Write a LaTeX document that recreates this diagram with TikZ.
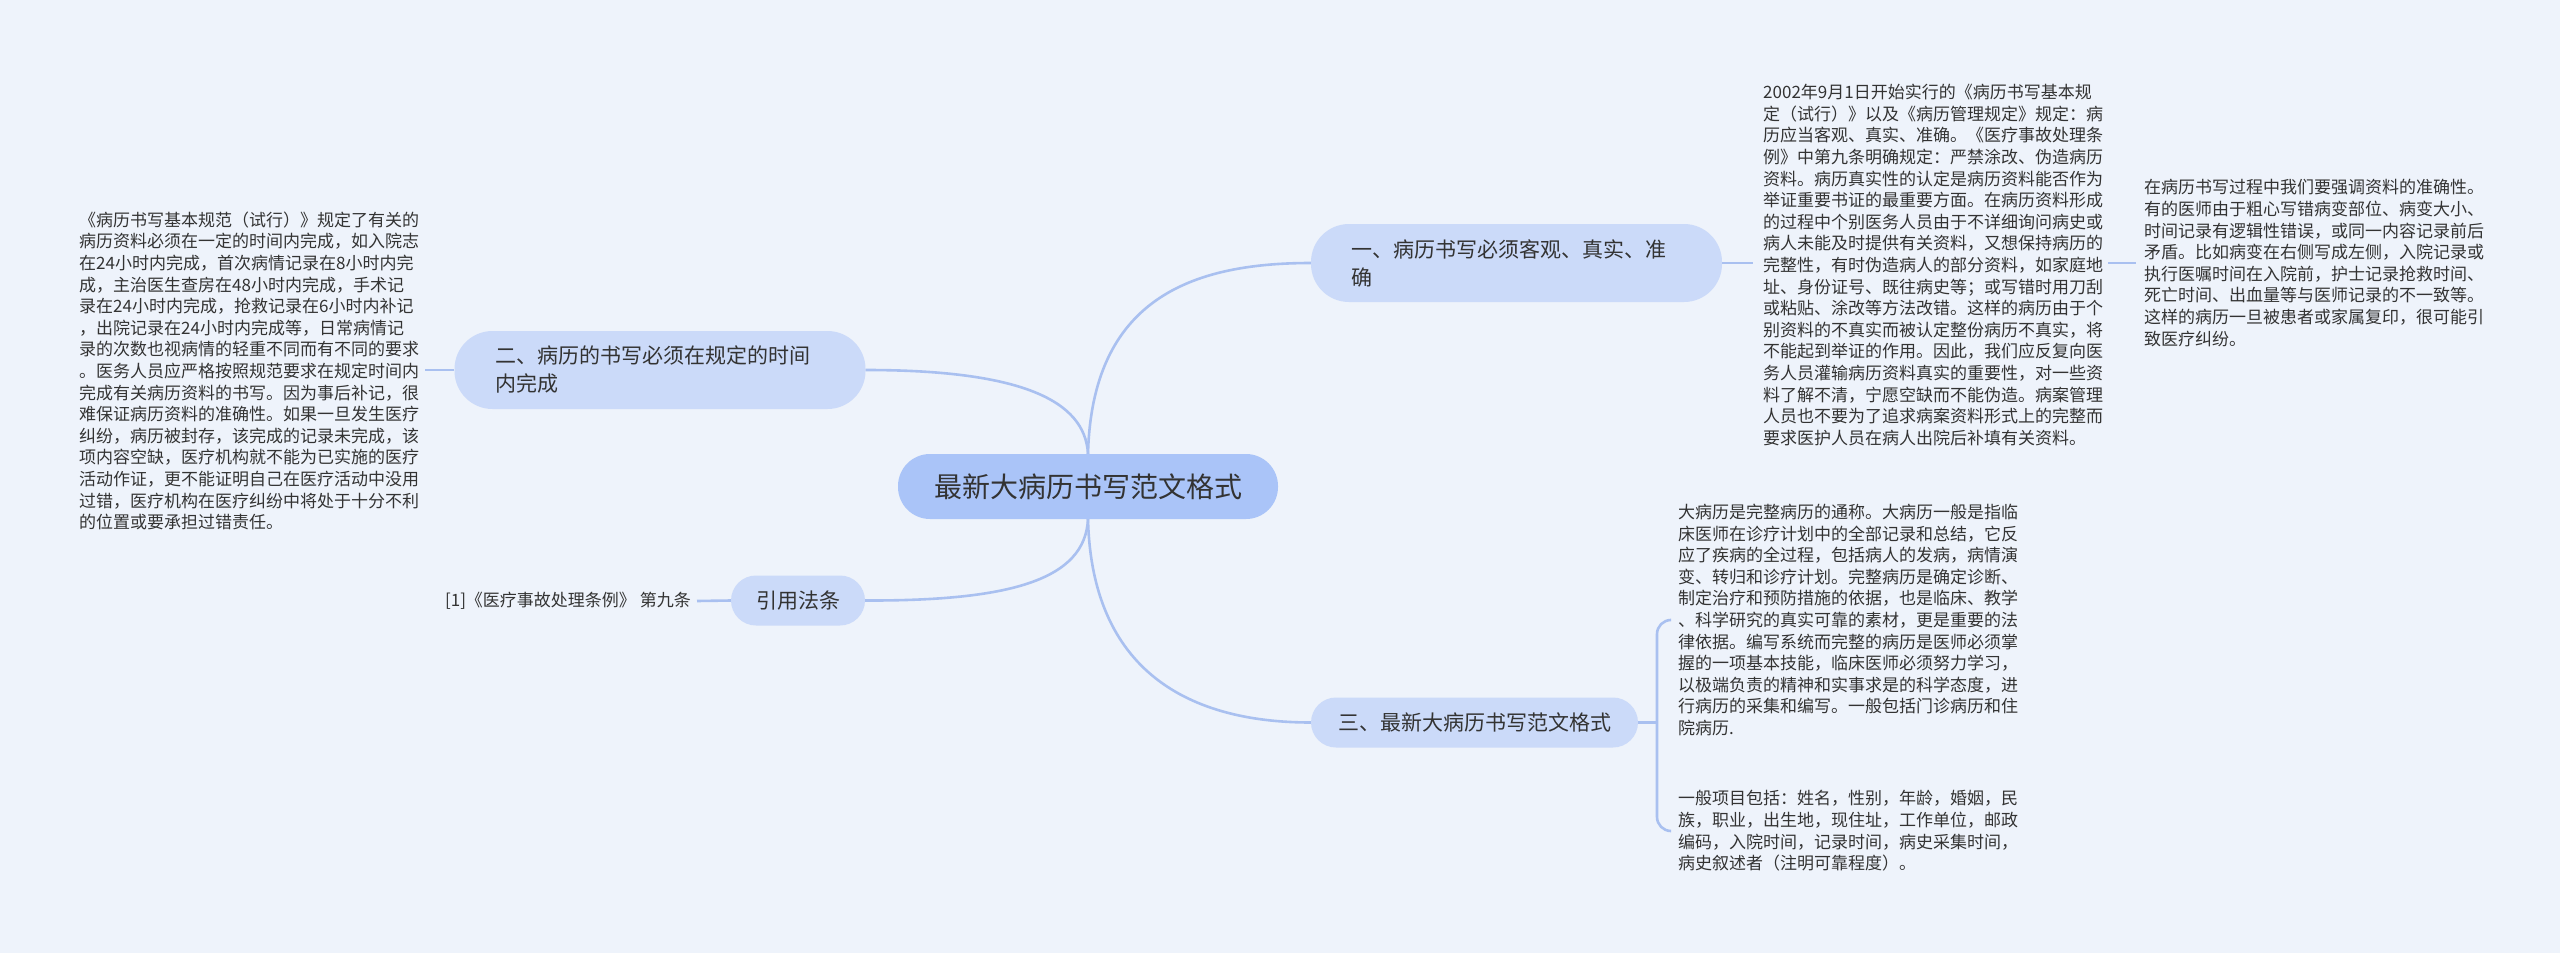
\documentclass[tikz,border=0pt]{standalone}
\usepackage{fontspec}
\setmainfont{Noto Sans CJK SC}
\definecolor{bgc}{HTML}{EEF3FB}
\definecolor{connc}{HTML}{A9C0F0}
\definecolor{rootc}{HTML}{AAC4F8}
\definecolor{lvlc}{HTML}{CBDAF9}
\definecolor{txtc}{HTML}{333333}
\tikzset{
  conn/.style={draw=connc, line width=2.6pt},
  rootnode/.style={fill=rootc, rounded corners=32pt, minimum width=380pt, minimum height=65pt, inner sep=0pt, text=txtc, font=\fontsize{28}{34}\selectfont},
  lvltwo/.style={fill=lvlc, rounded corners=38pt, text width=330pt, inner xsep=40.5pt, minimum height=78pt, align=left, text=txtc, font=\fontsize{21}{28}\selectfont},
  lvlone/.style={fill=lvlc, rounded corners=25pt, minimum height=50pt, inner sep=0pt, text=txtc, font=\fontsize{21}{28}\selectfont},
  leaf/.style={inner sep=0pt, align=left, text=txtc, font=\fontsize{17}{21.6}\selectfont},
}
\begin{document}
\begin{tikzpicture}[x=1pt,y=-1pt]
\fill[bgc] (0,0) rectangle (2560,953);
\useasboundingbox (0,0) rectangle (2560,953);

\node[rootnode] (c) at (1088,486.5) {最新大病历书写范文格式};
\node[lvltwo] (b1) at (1516.5,263) {一、病历书写必须客观、真实、准\\确};
\node[lvltwo] (b2) at (660,370) {二、病历的书写必须在规定的时间\\内完成};
\node[lvlone, minimum width=134pt] (b4) at (798,600.5) {引用法条};
\node[lvlone, minimum width=327pt] (b3) at (1474.5,722.5) {三、最新大病历书写范文格式};

\node[leaf, anchor=west] (la) at (1763,265) {2002年9月1日开始实行的《病历书写基本规\\定（试行）》以及《病历管理规定》规定：病\\历应当客观、真实、准确。《医疗事故处理条\\例》中第九条明确规定：严禁涂改、伪造病历\\资料。病历真实性的认定是病历资料能否作为\\举证重要书证的最重要方面。在病历资料形成\\的过程中个别医务人员由于不详细询问病史或\\病人未能及时提供有关资料，又想保持病历的\\完整性，有时伪造病人的部分资料，如家庭地\\址、身份证号、既往病史等；或写错时用刀刮\\或粘贴、涂改等方法改错。这样的病历由于个\\别资料的不真实而被认定整份病历不真实，将\\不能起到举证的作用。因此，我们应反复向医\\务人员灌输病历资料真实的重要性，对一些资\\料了解不清，宁愿空缺而不能伪造。病案管理\\人员也不要为了追求病案资料形式上的完整而\\要求医护人员在病人出院后补填有关资料。};
\node[leaf, anchor=west] (lb) at (2144,263) {在病历书写过程中我们要强调资料的准确性。\\有的医师由于粗心写错病变部位、病变大小、\\时间记录有逻辑性错误，或同一内容记录前后\\矛盾。比如病变在右侧写成左侧，入院记录或\\执行医嘱时间在入院前，护士记录抢救时间、\\死亡时间、出血量等与医师记录的不一致等。\\这样的病历一旦被患者或家属复印，很可能引\\致医疗纠纷。};
\node[leaf, anchor=west] (lc) at (79,371) {《病历书写基本规范（试行）》规定了有关的\\病历资料必须在一定的时间内完成，如入院志\\在24小时内完成，首次病情记录在8小时内完\\成，主治医生查房在48小时内完成，手术记\\录在24小时内完成，抢救记录在6小时内补记\\，出院记录在24小时内完成等，日常病情记\\录的次数也视病情的轻重不同而有不同的要求\\。医务人员应严格按照规范要求在规定时间内\\完成有关病历资料的书写。因为事后补记，很\\难保证病历资料的准确性。如果一旦发生医疗\\纠纷，病历被封存，该完成的记录未完成，该\\项内容空缺，医疗机构就不能为已实施的医疗\\活动作证，更不能证明自己在医疗活动中没用\\过错，医疗机构在医疗纠纷中将处于十分不利\\的位置或要承担过错责任。};
\node[leaf, anchor=east] (ld) at (691,601) {[1]《医疗事故处理条例》 第九条};
\node[leaf, anchor=west] (le) at (1678,620) {大病历是完整病历的通称。大病历一般是指临\\床医师在诊疗计划中的全部记录和总结，它反\\应了疾病的全过程，包括病人的发病，病情演\\变、转归和诊疗计划。完整病历是确定诊断、\\制定治疗和预防措施的依据，也是临床、教学\\、科学研究的真实可靠的素材，更是重要的法\\律依据。编写系统而完整的病历是医师必须掌\\握的一项基本技能，临床医师必须努力学习，\\以极端负责的精神和实事求是的科学态度，进\\行病历的采集和编写。一般包括门诊病历和住\\院病历.};
\node[leaf, anchor=west] (lf) at (1678,831) {一般项目包括：姓名，性别，年龄，婚姻，民\\族，职业，出生地，现住址，工作单位，邮政\\编码，入院时间，记录时间，病史采集时间，\\病史叙述者（注明可靠程度）。};

% main connectors
\draw[conn] (c.north) .. controls (1092,300) and (1190,263) .. (b1.west);
\draw[conn] (c.north) .. controls (1085,400) and (1020,370) .. (b2.east);
\draw[conn] (c.south) .. controls (1085,580) and (1010,601) .. (b4.east);
\draw[conn] (c.south) .. controls (1092,680) and (1200,722.5) .. (b3.west);

% leaf connectors
\coordinate (ja) at (1753,263);
\draw[conn] (b1.east) -- (ja);
\coordinate (jb1) at (2108,263);
\coordinate (jb2) at (2136,263);
\draw[conn] (jb1) -- (jb2);
\coordinate (jc) at (425,370);
\draw[conn] (b2.west) -- (jc);
\coordinate (jd) at (697,601);
\draw[conn] (b4.west) -- (jd);
\coordinate (jk) at (1657,722.5);
\coordinate (je) at (1670,620);
\coordinate (jf) at (1670,831);
\draw[conn] (b3.east) -- (jk);
\draw[conn, rounded corners=14pt] (je) -- (1657,620) -- (1657,831) -- (jf);
\end{tikzpicture}
\end{document}
